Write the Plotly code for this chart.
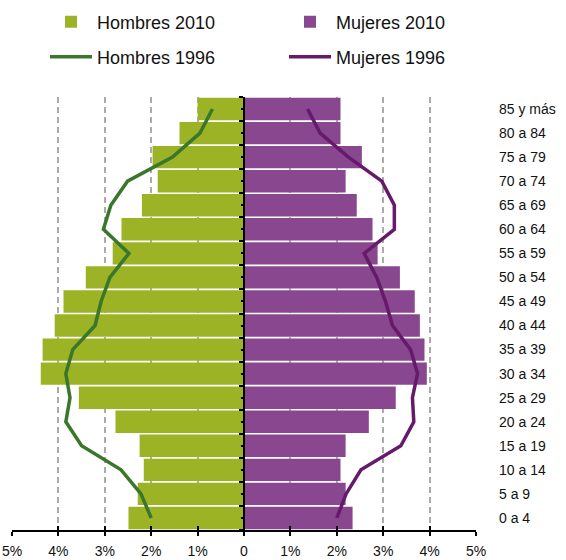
import plotly.graph_objects as go

categories = ["0 a 4", "5 a 9", "10 a 14", "15 a 19", "20 a 24", "25 a 29", "30 a 34",
              "35 a 39", "40 a 44", "45 a 49", "50 a 54", "55 a 59", "60 a 64", "65 a 69",
              "70 a 74", "75 a 79", "80 a 84", "85 y más"]
hombres_2010 = [2.49, 2.29, 2.16, 2.25, 2.77, 3.56, 4.38, 4.34, 4.08, 3.89, 3.41, 2.83, 2.64, 2.20, 1.86, 1.97, 1.39, 1.00]
mujeres_2010 = [2.34, 2.19, 2.08, 2.19, 2.69, 3.27, 3.94, 3.89, 3.79, 3.68, 3.36, 2.88, 2.77, 2.43, 2.19, 2.54, 2.08, 2.08]
hombres_1996 = [2.00, 2.22, 2.65, 3.50, 3.84, 3.75, 3.84, 3.69, 3.21, 3.08, 2.89, 2.48, 3.03, 2.87, 2.51, 1.54, 0.95, 0.68]
mujeres_1996 = [2.00, 2.20, 2.52, 3.38, 3.66, 3.63, 3.74, 3.59, 3.20, 3.05, 2.86, 2.59, 3.24, 3.24, 2.97, 2.25, 1.64, 1.37]
x_tickvals = [-5, -4, -3, -2, -1, 0, 1, 2, 3, 4, 5]
x_ticktext = ["5%", "4%", "3%", "2%", "1%", "0", "1%", "2%", "3%", "4%", "5%"]

pos = list(range(len(categories)))
bounds = [p - 0.5 for p in pos] + [pos[-1] + 0.5]

FONT = "Liberation Sans, Arial, sans-serif"
GREEN_BAR = "#9cb326"
PURPLE_BAR = "#894790"
GREEN_LINE = "#3b772a"
PURPLE_LINE = "#661a6c"

fig = go.Figure()
fig.add_trace(go.Bar(x=[-v for v in hombres_2010], y=pos, orientation="h", name="Hombres 2010",
                     marker=dict(color=GREEN_BAR, line=dict(width=0)), legend="legend"))
fig.add_trace(go.Bar(x=mujeres_2010, y=pos, orientation="h", name="Mujeres 2010",
                     marker=dict(color=PURPLE_BAR, line=dict(width=0)), legend="legend2"))
fig.add_trace(go.Scatter(x=[-v for v in hombres_1996], y=pos, mode="lines", name="Hombres 1996",
                         xaxis="x2", yaxis="y",
                         line=dict(color=GREEN_LINE, width=3.5), legend="legend3"))
fig.add_trace(go.Scatter(x=mujeres_1996, y=pos, mode="lines", name="Mujeres 1996",
                         xaxis="x", yaxis="y2",
                         line=dict(color=PURPLE_LINE, width=3.5), legend="legend4"))

yr = [bounds[0], bounds[-1]]


def leg(x_px, y_px):
    return dict(orientation="h", xref="container", yref="container", x=x_px / 566, y=1 - y_px / 560,
                xanchor="left", yanchor="middle", itemwidth=42,
                font=dict(size=18, family=FONT, color="#111111"), bgcolor="rgba(0,0,0,0)")


fig.update_layout(
    width=566, height=560,
    margin=dict(l=12, r=90, t=97, b=30, autoexpand=False),
    paper_bgcolor="white", plot_bgcolor="white",
    barmode="overlay", bargap=0.07,
    font=dict(family=FONT, size=14, color="#111111"),
    showlegend=True,
    xaxis=dict(range=[-5, 5], tickvals=x_tickvals, ticktext=x_ticktext,
               showgrid=True, gridcolor="#ababab", gridwidth=1.5, griddash="6px,4px",
               zeroline=False, showline=True, linecolor="black", linewidth=1.5,
               ticks="outside", ticklen=4, tickwidth=1.5, tickcolor="black",
               ticklabelstandoff=3, tickfont=dict(size=14), fixedrange=True),
    xaxis2=dict(range=[-5, 5], tickvals=x_tickvals, overlaying="x", anchor="y",
                showgrid=False, zeroline=False, showticklabels=False, showline=False,
                ticks="inside", ticklen=4, tickwidth=1.5, tickcolor="black"),
    yaxis=dict(range=yr, anchor="free", position=0.5, tickvals=bounds,
               showticklabels=False, showgrid=False, zeroline=False,
               showline=True, linecolor="black", linewidth=1.5,
               ticks="outside", ticklen=4, tickwidth=1.5, tickcolor="black",
               minor=dict(tickvals=pos, ticks="outside", ticklen=2, tickwidth=1.5, tickcolor="black")),
    yaxis2=dict(range=yr, overlaying="y", anchor="x", side="right", tickvals=pos, ticktext=categories,
                showgrid=False, zeroline=False, showline=False, ticks="",
                ticklabelstandoff=22, tickfont=dict(size=14)),
    yaxis3=dict(range=yr, overlaying="y", anchor="free", position=0.5, tickvals=bounds,
                showticklabels=False, showgrid=False, zeroline=False, showline=False,
                ticks="inside", ticklen=5, tickwidth=1.5, tickcolor="black"),
    legend=leg(45, 22),
    legend2=leg(284, 22),
    legend3=leg(45, 57),
    legend4=leg(284, 57),
)

fig.write_html("out.html", config={"displayModeBar": False},
               post_script="document.body.style.margin='0';")
